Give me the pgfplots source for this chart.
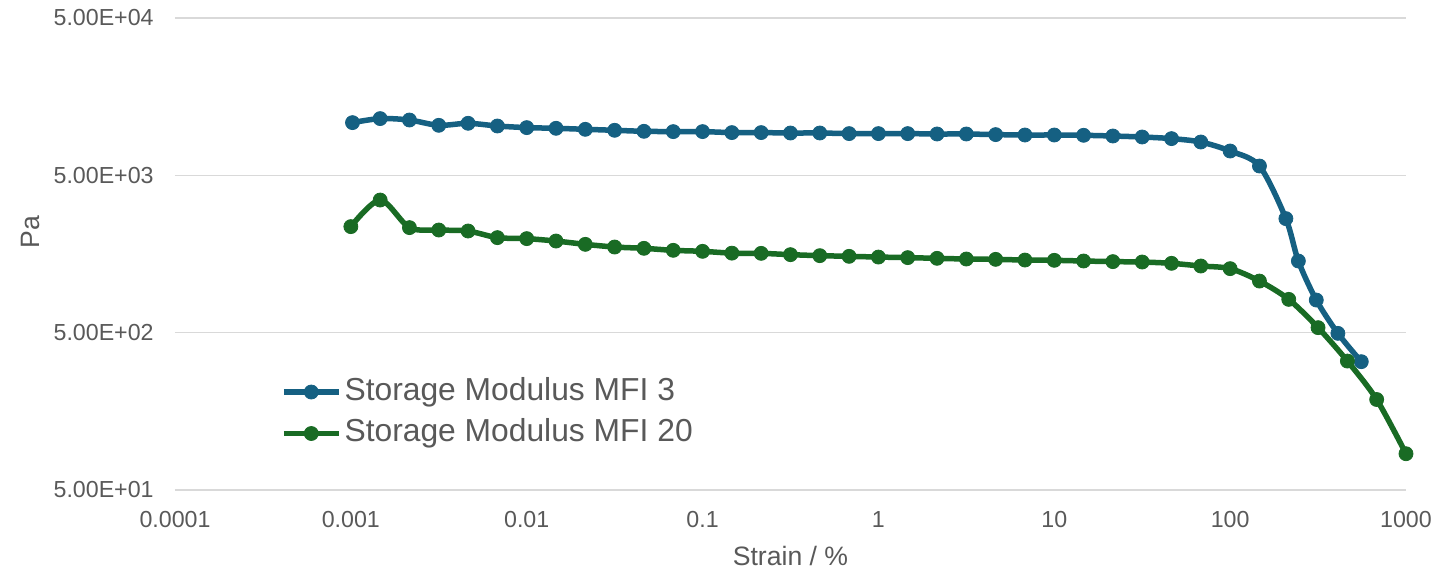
\documentclass[border=0pt]{standalone}
\usepackage{pgfplots}
\pgfplotsset{compat=1.18}
\usepackage{fontspec}
\setmainfont{Liberation Sans}
\definecolor{cblue}{HTML}{156082}
\definecolor{cgreen}{HTML}{196B24}
\definecolor{tgray}{HTML}{595959}
\definecolor{ggray}{HTML}{D9D9D9}
\begin{document}
\begin{tikzpicture}
\path[use as bounding box] (-87.5pt,-43.5pt) rectangle (636.5pt,245pt);
\begin{axis}[
  scale only axis, width=615.5pt, height=236pt,
  xmode=log, ymode=log,
  xmin=1e-4, xmax=1000, ymin=50, ymax=50000,
  xtick={1e-4,1e-3,0.01,0.1,1,10,100,1000},
  xticklabels={0.0001,0.001,0.01,0.1,1,10,100,1000},
  ytick={50,500,5000,50000},
  yticklabels={5.00E+01,5.00E+02,5.00E+03,5.00E+04},
  xminorticks=false, yminorticks=false,
  minor tick length=0pt,
  ymajorgrids, grid style={ggray, line width=0.75pt},
  axis line style={draw=none},
  major tick length=0pt,
  tick label style={text=tgray},
  yticklabel style={font=\fontsize{11.6}{13}\selectfont, inner sep=0pt, anchor=east, xshift=-10.5pt},
  xticklabel style={font=\fontsize{11.6}{13}\selectfont, inner sep=0pt, anchor=north, yshift=-10.5pt},
  xlabel={Strain / \%}, ylabel={Pa},
  label style={font=\fontsize{13.3}{15}\selectfont, text=tgray},
  xlabel style={at={([yshift=-33pt]axis description cs:0.5,0)}, anchor=center},
  ylabel style={at={([xshift=-72.5pt]axis description cs:0,0.547)}, anchor=center},
  legend style={at={([xshift=-2pt,yshift=1pt]axis description cs:0.0894,0.2473)}, anchor=north west,
    draw=none, fill=none, inner sep=0pt, outer sep=0pt,
    font=\fontsize{15.9}{19}\selectfont, text=tgray, row sep=0pt,
    nodes={inner sep=0pt, inner xsep=1.5pt, inner ysep=2.875pt, text height=11.5pt, text depth=3.5pt}},
  legend cell align=left,
  legend image code/.code={\draw[mark repeat=2,mark phase=2] plot coordinates {(0pt,0pt)(13.75pt,0pt)(27.5pt,0pt)};},
  every axis plot/.append style={line width=2.75pt, smooth, mark=*, mark size=3.5pt, mark options={solid, line width=0.4pt}},
]
\addplot[color=cblue] coordinates {
(0.001022,10814) (0.001468,11470) (0.002154,11234) (0.003162,10396) (0.004642,10706) (0.006813,10290)
(0.01,10051) (0.01468,9950) (0.02154,9804) (0.03162,9663) (0.04642,9522) (0.06813,9481)
(0.1,9481) (0.1468,9344) (0.2154,9344) (0.3162,9289) (0.4642,9289) (0.6813,9208)
(1,9208) (1.468,9208) (2.154,9155) (3.162,9155) (4.642,9073) (6.813,9021)
(10,9021) (14.68,8982) (21.54,8889) (31.62,8761) (46.42,8557) (68.13,8142)
(100,7136) (146.8,5729) (207.5,2653) (244.3,1427) (309,806) (410,495) (557,327)
};
\addlegendentry{Storage Modulus MFI 3}
\addplot[color=cgreen] coordinates {
(0.001,2360) (0.001468,3483) (0.002154,2326) (0.003162,2246) (0.004642,2213) (0.006813,2009)
(0.01,1980) (0.01468,1911) (0.02154,1821) (0.03162,1751) (0.04642,1718) (0.06813,1668)
(0.1,1644) (0.1468,1601) (0.2154,1596) (0.3162,1566) (0.4642,1543) (0.6813,1528)
(1,1512) (1.468,1499) (2.154,1484) (3.162,1469) (4.642,1462) (6.813,1447)
(10,1441) (14.68,1427) (21.54,1414) (31.62,1406) (46.42,1379) (68.13,1326)
(100,1276) (146.8,1064) (215.4,814) (316.2,538) (464.2,330) (681.3,188) (1000,85)
};
\addlegendentry{Storage Modulus MFI 20}
\end{axis}
\end{tikzpicture}
\end{document}
